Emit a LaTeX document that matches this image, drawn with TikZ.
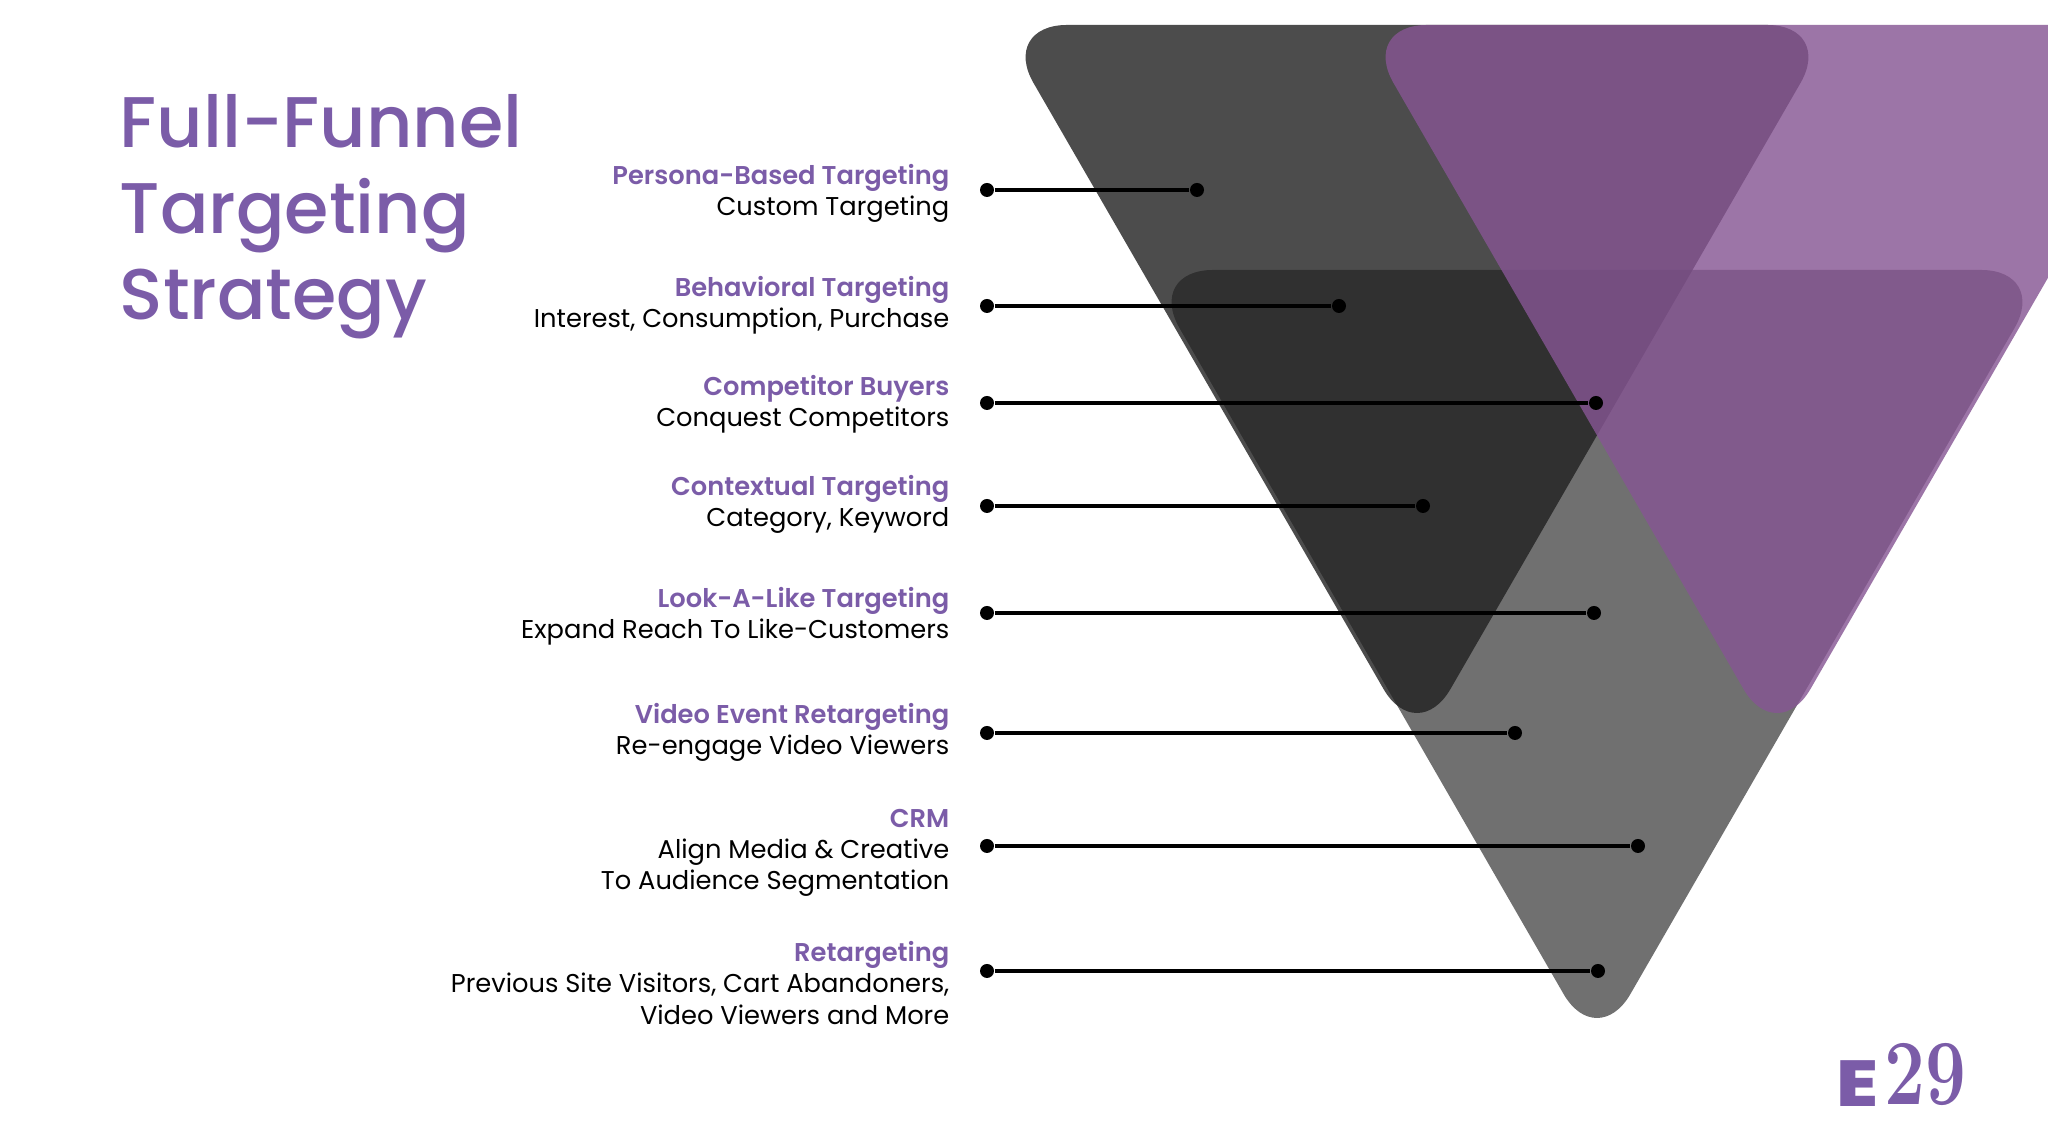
\documentclass[tikz,border=0pt]{standalone}
\usepackage{fontspec}
\usepackage{tikz}
\newfontfamily\popfont{Poppins}
\newfontfamily\popmedium{Poppins Medium}
\newfontfamily\popsemi{Poppins SemiBold}
\newfontfamily\popbold{Poppins ExtraBold}
\definecolor{TitlePurple}{HTML}{7B5CA8}
\definecolor{FunnelPurple}{HTML}{865593}
\definecolor{FunnelDark}{HTML}{202020}
\definecolor{FunnelGrey}{HTML}{707070}
\newcommand{\heading}[1]{\textcolor{TitlePurple}{\popsemi #1}}
\tikzset{
  funnel/.style={rounded corners=0.67cm, draw=none},
  leader/.style={line width=1.3pt, black},
  dotnode/.style={circle, fill=black, inner sep=0pt, minimum size=0.14cm},
  labeltext/.style={anchor=north east, align=right, inner sep=0pt, font=\popfont\fontsize{7.32}{8.85}\selectfont},
}

\begin{document}
\begin{tikzpicture}
      \clip (0,0) rectangle (20.48,11.44);
      \fill [white] (0,0) rectangle (20.48,11.44);

      \fill [funnel, FunnelGrey] (11.46,8.74) -- (20.48,8.74) -- (15.97,0.92) -- cycle;
      \fill [funnel, FunnelDark, opacity=0.8] (10.00,11.19) -- (18.34,11.19) -- (14.17,3.97) -- cycle;
      \fill [funnel, FunnelPurple, opacity=0.81] (13.60,11.19) -- (21.94,11.19) -- (17.77,3.97) -- cycle;

      \node [anchor=north west, align=left, inner sep=0pt, text=TitlePurple, font=\popmedium\fontsize{20.4}{24.5}\selectfont] (title) at (1.19,10.50) {Full-Funnel\\Targeting\\Strategy};

      \node [labeltext] (persona) at (9.50,9.805) {\heading{Persona-Based Targeting}\\Custom Targeting};
      \node [labeltext] (behavior) at (9.50,8.68) {\heading{Behavioral Targeting}\\Interest, Consumption, Purchase};
      \node [labeltext] (competitor) at (9.50,7.69) {\heading{Competitor Buyers}\\Conquest Competitors};
      \node [labeltext] (contextual) at (9.50,6.695) {\heading{Contextual Targeting}\\Category, Keyword};
      \node [labeltext] (lookalike) at (9.50,5.575) {\heading{Look-A-Like Targeting}\\Expand Reach To Like-Customers};
      \node [labeltext] (video) at (9.50,4.41) {\heading{Video Event Retargeting}\\Re-engage Video Viewers};
      \node [labeltext] (crm) at (9.50,3.355) {\heading{CRM}\\Align Media \& Creative\\To Audience Segmentation};
      \node [labeltext] (retarget) at (9.50,2.03) {\heading{Retargeting}\\Previous Site Visitors, Cart Abandoners,\\Video Viewers and More};

      \node [dotnode] (personaL) at (9.87,9.54) {};
      \node [dotnode] (personaR) at (11.97,9.54) {};
      \draw [leader] (personaL) -- (personaR);

      \node [dotnode] (behaviorL) at (9.87,8.38) {};
      \node [dotnode] (behaviorR) at (13.39,8.38) {};
      \draw [leader] (behaviorL) -- (behaviorR);

      \node [dotnode] (competitorL) at (9.87,7.41) {};
      \node [dotnode] (competitorR) at (15.96,7.41) {};
      \draw [leader] (competitorL) -- (competitorR);

      \node [dotnode] (contextualL) at (9.87,6.38) {};
      \node [dotnode] (contextualR) at (14.23,6.38) {};
      \draw [leader] (contextualL) -- (contextualR);

      \node [dotnode] (lookalikeL) at (9.87,5.31) {};
      \node [dotnode] (lookalikeR) at (15.94,5.31) {};
      \draw [leader] (lookalikeL) -- (lookalikeR);

      \node [dotnode] (videoL) at (9.87,4.11) {};
      \node [dotnode] (videoR) at (15.15,4.11) {};
      \draw [leader] (videoL) -- (videoR);

      \node [dotnode] (crmL) at (9.87,2.98) {};
      \node [dotnode] (crmR) at (16.38,2.98) {};
      \draw [leader] (crmL) -- (crmR);

      \node [dotnode] (retargetL) at (9.87,1.73) {};
      \node [dotnode] (retargetR) at (15.98,1.73) {};
      \draw [leader] (retargetL) -- (retargetR);

      \node [anchor=base west, inner sep=0pt, text=TitlePurple, font=\popbold\fontsize{18.5}{18.5}\selectfont] (logoE) at (18.36,0.37) {\scalebox{1.18}[1]{E}};
      \node [anchor=base west, inner sep=0pt, text=TitlePurple, font=\rmfamily\bfseries\fontsize{26.5}{26.5}\selectfont] (logoNum) at (18.84,0.39) {\scalebox{0.78}[1]{29}};
\end{tikzpicture}
\end{document}
